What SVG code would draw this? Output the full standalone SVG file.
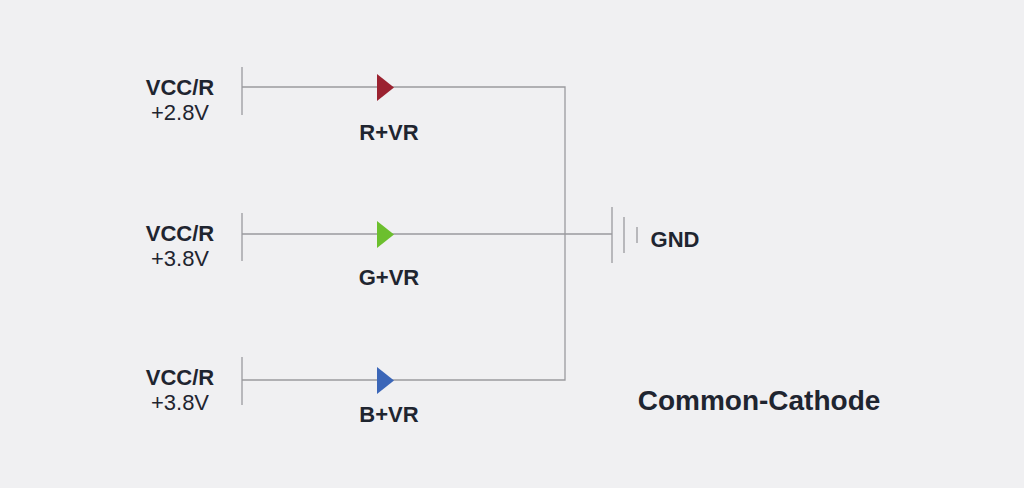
<svg xmlns="http://www.w3.org/2000/svg" width="1024" height="488" viewBox="0 0 1024 488">
<style>
.w{stroke:#9a9a9e;stroke-width:1.3;fill:none}
.b{font-family:"Liberation Sans",Arial,sans-serif;font-weight:bold;font-size:22px;fill:#1f2530;text-anchor:middle}
.n{font-family:"Liberation Sans",Arial,sans-serif;font-size:22px;fill:#1f2530;text-anchor:middle}
</style>
<rect width="1024" height="488" fill="#f0f0f2"/>
<g id="connectors" class="w">
<path d="M242 87H565V380H242"/>
<path d="M242 234H612"/>
</g>
<g id="r"><path class="w" d="M242 67V115"/><text class="b" x="180" y="95">VCC/R</text><text class="n" x="180" y="120">+2.8V</text><path d="M377 74L394 87.5L377 101Z" fill="#9b2230"/><text class="b" x="389" y="140">R+VR</text></g>
<g id="g"><path class="w" d="M242 213V261"/><text class="b" x="180" y="241">VCC/R</text><text class="n" x="180" y="266">+3.8V</text><path d="M377 221L394 234.5L377 248Z" fill="#6cbf2e"/><text class="b" x="389" y="285">G+VR</text></g>
<g id="bl"><path class="w" d="M242 357V405"/><text class="b" x="180" y="385">VCC/R</text><text class="n" x="180" y="410">+3.8V</text><path d="M377 367L394 380.5L377 394Z" fill="#3b66b8"/><text class="b" x="389" y="422">B+VR</text></g>
<g id="gnd"><path class="w" d="M612 207V263M624 217V253M637 227V243"/><text class="b" x="675" y="247">GND</text></g>
<text class="b" x="759" y="410" style="font-size:28px">Common-Cathode</text>
</svg>
